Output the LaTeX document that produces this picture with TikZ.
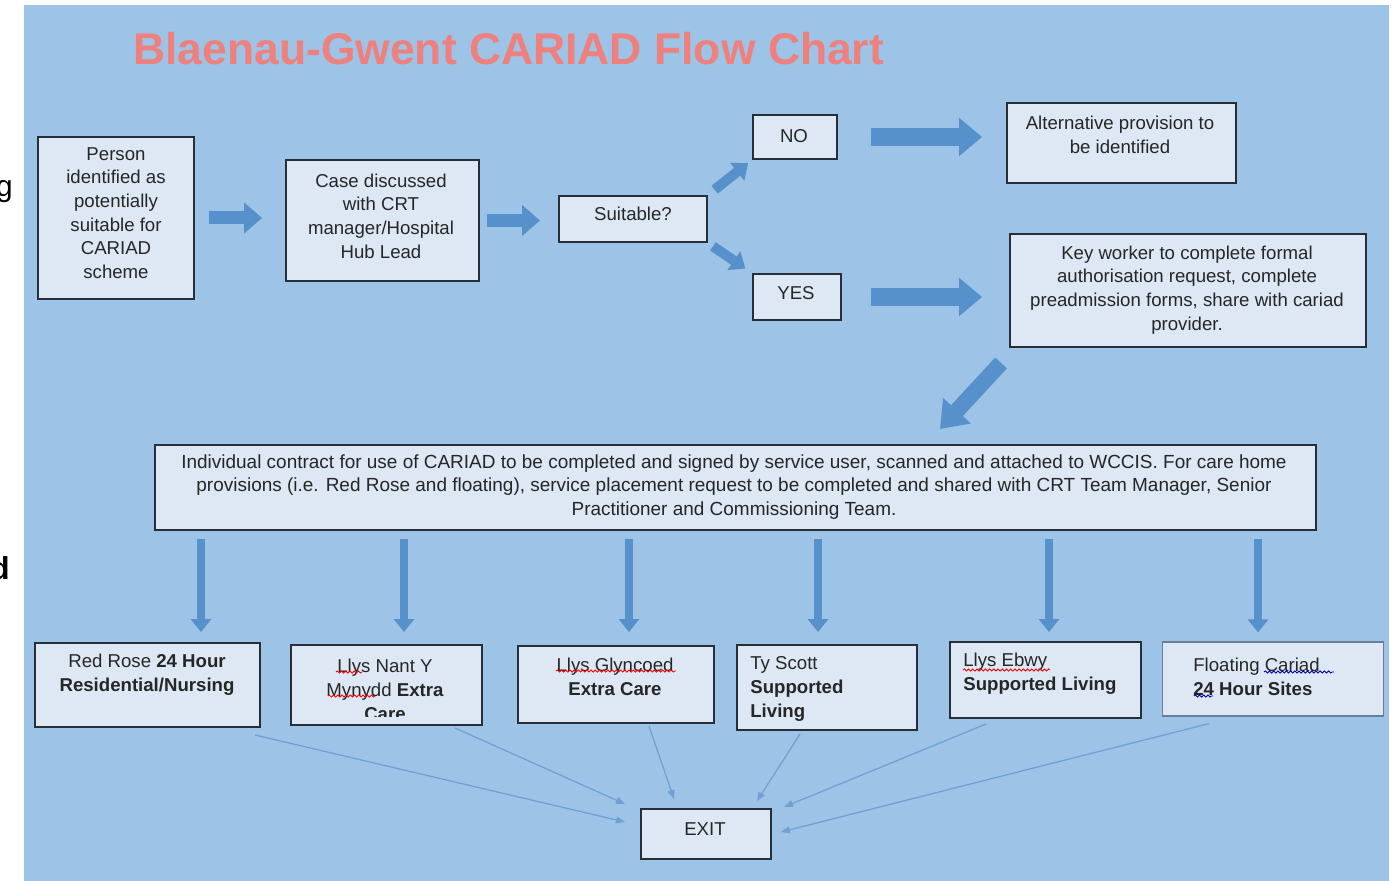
\documentclass[tikz,border=0pt]{standalone}
\usepackage{fontspec}
\setmainfont{Liberation Sans}
\usetikzlibrary{arrows.meta,decorations.pathmorphing}
\definecolor{bgblue}{RGB}{157,195,230}
\definecolor{boxfill}{RGB}{221,232,244}
\definecolor{boxline}{RGB}{38,46,56}
\definecolor{arrowblue}{RGB}{86,145,204}
\definecolor{titlered}{RGB}{238,128,126}
\definecolor{txtgray}{RGB}{38,38,38}
\tikzset{
  box/.style={draw=boxline, line width=0.04cm, fill=boxfill, inner sep=0pt},
  txt/.style={text=txtgray, inner sep=0pt, align=center, font=\fontsize{10.6pt}{13.5pt}\selectfont},
  fatarr/.style={arrowblue, line width=0.26cm, -{Triangle[length=0.36cm, width=0.6cm]}},
  fatdiag/.style={arrowblue, line width=0.2cm, -{Triangle[length=0.28cm, width=0.44cm]}},
  fatbig/.style={arrowblue, line width=0.36cm, -{Triangle[length=0.46cm, width=0.74cm]}},
  fatslant/.style={arrowblue, line width=0.32cm, -{Triangle[length=0.5cm, width=0.72cm]}},
  downarr/.style={arrowblue, line width=0.16cm, -{Triangle[length=0.26cm, width=0.4cm]}},
  exitarr/.style={arrowblue!85!white, line width=0.025cm, -{Triangle[length=0.18cm, width=0.14cm]}},
  squig/.style={line width=0.5pt, decorate, decoration={snake, amplitude=0.6pt, segment length=2.4pt}}
}
\begin{document}
\begin{tikzpicture}[x=0.02cm, y=-0.02cm]
	\useasboundingbox (0,0) rectangle (1399,881);
	\fill[white] (0,0) rectangle (1399,881);
	\fill[bgblue] (24,5) rectangle (1389,881);
	% cut-off letters at the left edge
	\node[anchor=base east, inner sep=0pt, font=\fontsize{17pt}{20pt}\selectfont] (frag1) at (13,197) {g};
	\node[anchor=base east, inner sep=0pt, font=\fontsize{18pt}{20pt}\selectfont\bfseries] (frag2) at (10,579) {d};
	\node[anchor=base west, inner sep=0pt, text=titlered, font=\fontsize{25.3pt}{30pt}\selectfont\bfseries] (title) at (133,65) {Blaenau-Gwent CARIAD Flow Chart};
	% top row
	\node[box, minimum width=3.12cm, minimum height=3.24cm] (person) at (116,218) {};
	\node[box, minimum width=3.86cm, minimum height=2.42cm] (case) at (382.5,220.5) {};
	\node[box, minimum width=2.96cm, minimum height=0.92cm] (suit) at (633,219) {};
	\node[box, minimum width=1.68cm, minimum height=0.88cm] (no) at (795,137) {};
	\node[box, minimum width=1.76cm, minimum height=0.92cm] (yes) at (797,297) {};
	\node[box, minimum width=4.58cm, minimum height=1.6cm] (alt) at (1121.5,143) {};
	\node[box, minimum width=7.12cm, minimum height=2.26cm] (key) at (1188,290.5) {};
	\node[txt] (person-t) at (116,213) {Person\\identified as\\potentially\\suitable for\\CARIAD\\scheme};
	\node[txt] (case-t) at (381,216) {Case discussed\\with CRT\\manager/Hospital\\Hub Lead};
	\node[txt] (suit-t) at (633,214) {Suitable?};
	\node[txt] (no-t) at (794,136) {NO};
	\node[txt] (yes-t) at (796,293) {YES};
	\node[txt] (alt-t) at (1120,135) {Alternative provision to\\be identified};
	\node[txt] (key-t) at (1187,290) {Key worker to complete formal\\authorisation request, complete\\preadmission forms, share with cariad\\provider.};
	% contract
	\node[box, minimum width=23.22cm, minimum height=1.7cm] (contract) at (735.5,487.5) {};
	\node[txt, font=\fontsize{10.8pt}{13.6pt}\selectfont] (contract-t) at (734,487) {Individual contract for use of CARIAD to be completed and signed by service user, scanned and attached to WCCIS. For care home\\provisions (i.e. Red Rose and floating), service placement request to be completed and shared with CRT Team Manager, Senior\\Practitioner and Commissioning Team.};
	% services
	\node[box, minimum width=4.5cm, minimum height=1.68cm] (rr) at (147.5,685) {};
	\node[box, minimum width=3.82cm, minimum height=1.6cm] (nant) at (386.5,685) {};
	\node[box, minimum width=3.92cm, minimum height=1.54cm] (glyn) at (616,684.5) {};
	\node[box, minimum width=3.6cm, minimum height=1.7cm] (ty) at (827,687.5) {};
	\node[box, minimum width=3.82cm, minimum height=1.52cm] (ebwy) at (1045.5,680) {};
	\node[box, draw=boxline!45!bgblue, line width=0.025cm, minimum width=4.42cm, minimum height=1.48cm] (float) at (1273,679) {};
	\node[box, minimum width=2.6cm, minimum height=1.0cm] (exit) at (706,834) {};
	\node[txt] (rr-t) at (147,675) {Red Rose \textbf{24 Hour}\\\textbf{Residential/Nursing}};
	\begin{scope}
		\clip ([xshift=0.1cm,yshift=0.18cm]nant.south west) rectangle (nant.north east);
		\node[txt] (nant-t) at (385,690) {Llys Nant Y\\Mynydd \textbf{Extra}\\\textbf{Care}};
	\end{scope}
	\node[txt] (glyn-t) at (615,677) {Llys Glyncoed\\\textbf{Extra Care}};
	\node[txt, align=left, anchor=west] (ty-t) at (750,689) {Ty Scott\\\textbf{Supported}\\\textbf{Living}};
	\node[txt, align=left, anchor=west] (ebwy-t) at (963,674) {Llys Ebwy\\\textbf{Supported Living}};
	\node[txt, align=left, anchor=west] (float-t) at (1193,677) {Floating Cariad\\\textbf{24 Hour Sites}};
	\node[txt] (exit-t) at (705,829) {EXIT};
	% spelling marks
	\draw[squig, red] (336,672) -- (362,672);
	\draw[squig, red] (328,696) -- (375,696);
	\draw[squig, red] (556,671) -- (676,671);
	\draw[squig, red] (963,670) -- (1050,670);
	\draw[squig, blue!70!black] (1264,672) -- (1334,672);
	\draw[squig, blue!70!black] (1194,696) -- (1213,696);
	% block arrows
	\draw[fatarr, shorten <=0.28cm, shorten >=0.46cm] (person.east) -- (person.east -| case.west);
	\draw[fatarr, shorten <=0.14cm, shorten >=0.36cm] (case.east) -- (case.east -| suit.west);
	\draw[fatdiag, shorten <=0.17cm, shorten >=0.1cm] (suit.north east) -- (no.south west);
	\draw[fatdiag, shorten <=0.12cm, shorten >=0.16cm] (suit.south east) -- (yes.north west);
	\draw[fatbig, shorten <=0.66cm, shorten >=0.48cm] (no.east) -- (no.east -| alt.west);
	\draw[fatbig, shorten <=0.58cm, shorten >=0.54cm] (yes.east) -- (yes.east -| key.west);
	\draw[fatslant] ([xshift=-0.16cm,yshift=-0.3cm]key.south west) -- ([xshift=4.09cm,yshift=0.3cm]contract.north);
	% down arrows
	\coordinate (d1) at ([xshift=1.07cm,yshift=0.2cm]rr.north);
	\coordinate (d2) at ([xshift=0.35cm,yshift=0.24cm]nant.north);
	\coordinate (d3) at ([xshift=0.26cm,yshift=0.26cm]glyn.north);
	\coordinate (d4) at ([xshift=-0.18cm,yshift=0.24cm]ty.north);
	\coordinate (d5) at ([xshift=0.07cm,yshift=0.18cm]ebwy.north);
	\coordinate (d6) at ([xshift=-0.3cm,yshift=0.18cm]float.north);
	\draw[downarr, shorten <=0.16cm] (d1 |- contract.south) -- (d1);
	\draw[downarr, shorten <=0.16cm] (d2 |- contract.south) -- (d2);
	\draw[downarr, shorten <=0.16cm] (d3 |- contract.south) -- (d3);
	\draw[downarr, shorten <=0.16cm] (d4 |- contract.south) -- (d4);
	\draw[downarr, shorten <=0.16cm] (d5 |- contract.south) -- (d5);
	\draw[downarr, shorten <=0.16cm] (d6 |- contract.south) -- (d6);
	% to exit
	\draw[exitarr] ([xshift=-0.12cm,yshift=-0.14cm]rr.south east) -- ([xshift=-0.3cm,yshift=0.24cm]exit.west);
	\draw[exitarr] ([xshift=1.37cm,yshift=-0.04cm]nant.south) -- ([xshift=-0.3cm,yshift=0.08cm]exit.north west);
	\draw[exitarr] ([xshift=0.66cm,yshift=-0.04cm]glyn.south) -- ([xshift=0.68cm,yshift=0.18cm]exit.north west);
	\draw[exitarr] ([xshift=-0.54cm,yshift=-0.06cm]ty.south) -- ([xshift=-0.3cm,yshift=0.14cm]exit.north east);
	\draw[exitarr] ([xshift=-1.19cm,yshift=-0.1cm]ebwy.south) -- ([xshift=0.24cm,yshift=0.02cm]exit.north east);
	\draw[exitarr] ([xshift=-1.28cm,yshift=-0.14cm]float.south) -- ([xshift=0.18cm,yshift=0.04cm]exit.east);
\end{tikzpicture}
\end{document}
